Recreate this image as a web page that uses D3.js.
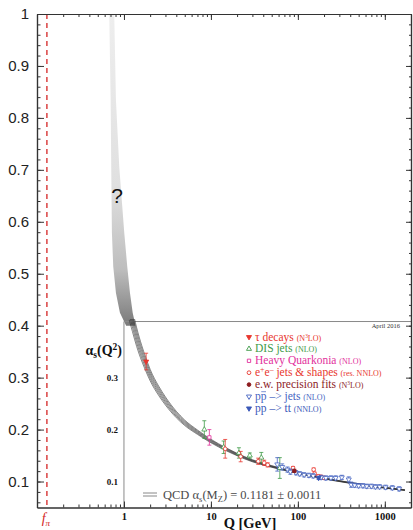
<!DOCTYPE html>
<html>
<head>
<meta charset="utf-8">
<style>
  body { margin: 0; background: #fff; }
  svg text { font-family: "Liberation Serif", "Times New Roman", serif; }
</style>
</head>
<body>
<div id="chart"><svg></svg></div>
<script src="https://cdn.jsdelivr.net/npm/d3@7/dist/d3.min.js"></script>
<script>
// QCD running coupling band (black hatched lines)
var curveQ     = [1.15, 1.25, 1.4, 1.6, 1.78, 2, 2.5, 3, 4, 5, 7, 10, 15, 20, 30, 50, 91.19, 150, 250, 400, 700, 1000, 1700]
var curveAlpha = [0.435, 0.41, 0.378, 0.347, 0.326, 0.305, 0.275, 0.255, 0.229, 0.213, 0.195, 0.178, 0.162, 0.152, 0.140, 0.129, 0.1181, 0.1102, 0.103, 0.0974, 0.0913, 0.0880, 0.0835]
var curveErr   = [0.024, 0.021, 0.018, 0.015, 0.013, 0.011, 0.009, 0.0078, 0.0062, 0.0052, 0.0042, 0.0034, 0.0028, 0.0024, 0.0020, 0.0016, 0.0011, 0.0010, 0.0009, 0.0009, 0.0008, 0.0008, 0.0007]

// grey "?" region at low Q: edges at given alpha values
var greyAlpha  = [1.0, 0.834, 0.706, 0.579, 0.514, 0.463, 0.425, 0.400]
var greyQLeft  = [0.677, 0.703, 0.714, 0.727, 0.753, 0.809, 0.899, 1.06]
var greyQRight = [0.773, 0.809, 0.883, 1.008, 1.091, 1.173, 1.26, 1.36]

// measurements
var tauQ = [1.8], tauAlpha = [0.331], tauErr = [0.016]
var disQ = [8.4, 14, 21, 28, 38, 62]
var disAlpha = [0.200, 0.166, 0.155, 0.150, 0.146, 0.126]
var disErr = [0.017, 0.012, 0.010, 0.005, 0.010, 0.020]
var hqQ = [9.6], hqAlpha = [0.185], hqErr = [0.015]
var eeQ = [14.6, 22, 35, 41, 45, 88, 152, 156, 172, 185, 200]
var eeAlpha = [0.163, 0.148, 0.139, 0.136, 0.132, 0.126, 0.123, 0.115, 0.110, 0.109, 0.107]
var eeErr = [0.018, 0.010, 0.006, 0.005, 0.004, 0.003, 0.003, 0.003, 0.003, 0.003, 0.003]
var ewQ = [91.19], ewAlpha = [0.1205], ewErr = [0.003]
var ppbarQ = [58, 66, 76, 82, 95, 105, 118, 134, 150, 185, 210, 240, 272, 320, 385, 410, 450, 500, 560, 620, 700, 780, 870, 1020, 1220, 1460]
var ppbarAlpha = [0.133, 0.128, 0.123, 0.119, 0.117, 0.115, 0.113, 0.112, 0.111, 0.108, 0.107, 0.107, 0.107, 0.108, 0.104, 0.094, 0.093, 0.092, 0.092, 0.091, 0.091, 0.090, 0.090, 0.089, 0.088, 0.086]
var ppbarErr = [0.013, 0.006, 0.005, 0.005, 0.004, 0.004, 0.004, 0.004, 0.004, 0.004, 0.004, 0.004, 0.004, 0.004, 0.005, 0.005, 0.004, 0.004, 0.004, 0.004, 0.004, 0.004, 0.004, 0.004, 0.004, 0.004]
var ttQ = [173], ttAlpha = [0.107], ttErr = [0.003]

// legend
var legendLabels = ["τ decays", "DIS jets", "Heavy Quarkonia", "e^{+}e^{–}  jets & shapes", "e.w. precision fits", "p~{p} –> jets", "pp –> tt"]
var legendNotes = ["(N^{3}LO)", "(NLO)", "(NLO)", "(res. NNLO)", "(N^{3}LO)", "(NLO)", "(NNLO)"]
var legendColors = ["#e8362e", "#3f9a48", "#e2309c", "#e8362e", "#8c1c1f", "#4664c2", "#3a58b8"]

var yMajor = [0.1, 0.2, 0.3, 0.4, 0.5, 0.6, 0.7, 0.8, 0.9, 1]
var insetYTicks = [0.1, 0.2, 0.3]
var xLabels = [1, 10, 100, 1000]
var fPi = 0.13

var screen = {width: 413, height: 530}
var frame = {left: 37, right: 411, top: 14, bottom: 507.5}

var svg = d3.select("#chart svg").attr("width", screen.width).attr("height", screen.height)

var xScale = d3.scaleLog().domain([0.1, 2000]).range([frame.left, frame.right])
var yScale = d3.scaleLinear().domain([0.05, 1]).range([frame.bottom, frame.top])

// small rich text helper: ^{sup} _{sub} ~{overline}; returns char ranges to overline
function rich(sel, str, size) {
    var re = /([\^_~])\{([^}]*)\}|([^\^_~]+)/g, m, n = 0, over = []
    while ((m = re.exec(str))) {
        if (m[3]) { sel.append("tspan").text(m[3]); n += m[3].length; continue }
        var t = sel.append("tspan").text(m[2])
        if (m[1] == "^") t.attr("baseline-shift", size * 0.33).attr("font-size", size * 0.68)
        if (m[1] == "_") t.attr("baseline-shift", -size * 0.22).attr("font-size", size * 0.68)
        if (m[1] == "~") over.push([n, m[2].length])
        n += m[2].length
    }
    return over
}

var defs = svg.append("defs")
var grad = defs.append("linearGradient").attr("id", "greyband")
    .attr("gradientUnits", "userSpaceOnUse")
    .attr("x1", 0).attr("x2", 0).attr("y1", yScale(1)).attr("y2", yScale(0.40))
grad.append("stop").attr("offset", 0).attr("stop-color", "#eeeeee")
grad.append("stop").attr("offset", 0.55).attr("stop-color", "#e0e0e0")
grad.append("stop").attr("offset", 0.82).attr("stop-color", "#bdbdbd")
grad.append("stop").attr("offset", 1).attr("stop-color", "#7a7a7a")

defs.append("clipPath").attr("id", "insetclip").append("rect")
    .attr("x", xScale(1)).attr("y", yScale(0.413))
    .attr("width", frame.right - xScale(1)).attr("height", frame.bottom - yScale(0.413))

// grey band
var greyPts = greyAlpha.map(function(a, i) { return [xScale(greyQLeft[i]), yScale(a)] })
    .concat(greyAlpha.map(function(a, i) { return [xScale(greyQRight[i]), yScale(a)] }).reverse())
svg.append("path")
    .attr("d", d3.line().curve(d3.curveLinearClosed)(greyPts))
    .attr("fill", "url(#greyband)")

svg.append("text").attr("x", 117).attr("y", 203)
    .attr("text-anchor", "middle")
    .style("font-family", "Liberation Sans, Arial, sans-serif")
    .attr("font-size", 21).attr("fill", "#111")
    .text("?")

// inset frame
svg.append("path")
    .attr("d", "M" + xScale(1) + "," + frame.bottom + "V" + yScale(0.408) + "H" + frame.right)
    .attr("fill", "none").attr("stroke", "#8a8a8a").attr("stroke-width", 1)

// hatched running-coupling band
var bandLines = [-1, -0.6, -0.2, 0.2, 0.6, 1]
var lineGen = d3.line().curve(d3.curveMonotoneX)
    .x(function(d) { return xScale(d[0]) })
    .y(function(d) { return yScale(d[1]) })
svg.append("g").attr("clip-path", "url(#insetclip)")
    .selectAll("path").data(bandLines).enter().append("path")
    .attr("d", function(k) {
        return lineGen(curveQ.map(function(q, i) { return [q, curveAlpha[i] + k * curveErr[i]] }))
    })
    .attr("fill", "none").attr("stroke", "#333").attr("stroke-width", 0.6)

// f_pi line
svg.append("line")
    .attr("x1", xScale(fPi)).attr("x2", xScale(fPi))
    .attr("y1", frame.top).attr("y2", frame.bottom)
    .attr("stroke", "#d42424").attr("stroke-width", 1.3).attr("stroke-dasharray", "5,4")

// measurements
var series = [
    {q: tauQ, a: tauAlpha, e: tauErr, c: legendColors[0], sym: d3.symbolTriangle, rot: 180, fill: true},
    {q: disQ, a: disAlpha, e: disErr, c: legendColors[1], sym: d3.symbolTriangle, rot: 0, fill: false},
    {q: hqQ, a: hqAlpha, e: hqErr, c: legendColors[2], sym: d3.symbolSquare, rot: 0, fill: false},
    {q: eeQ, a: eeAlpha, e: eeErr, c: legendColors[3], sym: d3.symbolCircle, rot: 0, fill: false},
    {q: ppbarQ, a: ppbarAlpha, e: ppbarErr, c: legendColors[5], sym: d3.symbolTriangle, rot: 180, fill: false},
    {q: ttQ, a: ttAlpha, e: ttErr, c: legendColors[6], sym: d3.symbolTriangle, rot: 180, fill: true},
    {q: ewQ, a: ewAlpha, e: ewErr, c: legendColors[4], sym: d3.symbolCircle, rot: 0, fill: true}
]
var pts = svg.append("g")
series.forEach(function(s) {
    var g = pts.append("g").attr("stroke", s.c).attr("stroke-width", 0.8)
    s.q.forEach(function(q, i) {
        var px = xScale(q), y1 = yScale(s.a[i] + s.e[i]), y2 = yScale(s.a[i] - s.e[i])
        g.append("path")
            .attr("d", "M" + (px - 2) + "," + y1 + "H" + (px + 2) + "M" + px + "," + y1 + "V" + y2 + "M" + (px - 2) + "," + y2 + "H" + (px + 2))
            .attr("fill", "none")
        g.append("path")
            .attr("d", d3.symbol().type(s.sym).size(11)())
            .attr("transform", "translate(" + px + "," + yScale(s.a[i]) + ") rotate(" + s.rot + ")")
            .attr("fill", s.fill ? s.c : "#fff")
    })
})

// legend
var legSyms = [[d3.symbolTriangle, 180, true], [d3.symbolTriangle, 0, false], [d3.symbolSquare, 0, false],
               [d3.symbolCircle, 0, false], [d3.symbolCircle, 0, true], [d3.symbolTriangle, 180, false], [d3.symbolTriangle, 180, true]]
var legend = svg.append("g").attr("transform", "translate(249,337)")
legendLabels.forEach(function(lab, i) {
    var row = legend.append("g").attr("transform", "translate(0," + (i * 11.9) + ")")
    row.append("path")
        .attr("d", d3.symbol().type(legSyms[i][0]).size(11)())
        .attr("transform", "rotate(" + legSyms[i][1] + ")")
        .attr("fill", legSyms[i][2] ? legendColors[i] : "#fff")
        .attr("stroke", legendColors[i]).attr("stroke-width", 0.9)
    var t = row.append("text").attr("x", 6).attr("y", 3.5).attr("fill", legendColors[i]).attr("font-size", 11.5)
    var over = rich(t, lab + " ", 11.5)
    var n = t.append("tspan").attr("font-size", 8)
    rich(n, legendNotes[i], 8)
    over.forEach(function(o) {
        var a = t.node().getStartPositionOfChar(o[0]).x
        var b = t.node().getEndPositionOfChar(o[0] + o[1] - 1).x
        row.append("line").attr("x1", a + 0.5).attr("x2", b - 0.5).attr("y1", -4.8).attr("y2", -4.8)
            .attr("stroke", legendColors[i]).attr("stroke-width", 0.7)
    })
})

svg.append("text").attr("x", 400).attr("y", 328).attr("text-anchor", "end")
    .attr("font-size", 6.5).attr("fill", "#333").text("April 2016")

// alpha_s(Q^2) label
var al = svg.append("text").attr("x", 122).attr("y", 355).attr("text-anchor", "end")
    .attr("font-size", 14).attr("font-weight", "bold").attr("fill", "#111")
rich(al, "α_{s}(Q^{2})", 14)

// QCD band legend
var qg = svg.append("g").attr("stroke", "#888").attr("stroke-width", 1)
qg.append("line").attr("x1", 143).attr("x2", 157).attr("y1", 493).attr("y2", 493)
qg.append("line").attr("x1", 143).attr("x2", 157).attr("y1", 496).attr("y2", 496)
var qt = svg.append("text").attr("x", 163).attr("y", 499).attr("font-size", 12.5).attr("fill", "#4a4a4a")
rich(qt, "QCD α_{s}(M_{Z}) = 0.1181 ± 0.0011", 12.5)

// axes
function styleAxis(g) {
    g.selectAll("path").attr("stroke", "#333").attr("stroke-width", 1.2)
    g.selectAll("line").attr("stroke", "#333")
}
var yMinor = d3.range(0.06, 1.0001, 0.02)
svg.append("g").attr("transform", "translate(" + frame.left + ",0)")
    .call(d3.axisLeft(yScale).tickValues(yMinor).tickSize(-3.5).tickSizeOuter(0).tickFormat(""))
    .call(styleAxis)
svg.append("g").attr("transform", "translate(" + frame.left + ",0)")
    .call(d3.axisLeft(yScale).tickValues(yMajor).tickSize(-7).tickSizeOuter(0).tickPadding(8)
        .tickFormat(function(d) { return d === 1 ? "1" : d.toFixed(1) }))
    .call(styleAxis)
    .call(function(g) {
        g.selectAll("text").style("font-family", "Liberation Sans, Arial, sans-serif")
            .attr("font-size", 15).attr("fill", "#222")
    })
svg.append("g").attr("transform", "translate(" + frame.right + ",0)")
    .call(d3.axisRight(yScale).tickValues(yMinor).tickSize(-2).tickSizeOuter(0).tickFormat(""))
    .call(styleAxis)
svg.append("g").attr("transform", "translate(" + frame.right + ",0)")
    .call(d3.axisRight(yScale).tickValues(yMajor).tickSize(-5).tickSizeOuter(0).tickFormat(""))
    .call(styleAxis)

var xMinor = xScale.ticks()
svg.append("g").attr("transform", "translate(0," + frame.top + ")")
    .call(d3.axisTop(xScale).tickValues(xMinor).tickSize(-3).tickSizeOuter(0).tickFormat(""))
    .call(styleAxis)
svg.append("g").attr("transform", "translate(0," + frame.top + ")")
    .call(d3.axisTop(xScale).tickValues(xLabels).tickSize(-6).tickSizeOuter(0).tickFormat(""))
    .call(styleAxis)
svg.append("g").attr("transform", "translate(0," + frame.bottom + ")")
    .call(d3.axisBottom(xScale).tickValues(xMinor).tickSize(-3).tickSizeOuter(0).tickFormat(""))
    .call(styleAxis)
svg.append("g").attr("transform", "translate(0," + frame.bottom + ")")
    .call(d3.axisBottom(xScale).tickValues(xLabels).tickSize(-6).tickSizeOuter(0).tickPadding(5)
        .tickFormat(d3.format("d")))
    .call(styleAxis)
    .call(function(g) {
        g.selectAll("text").attr("font-size", 10.5).attr("font-weight", "bold").attr("fill", "#111")
            .style("font-family", "Liberation Serif, serif")
    })

// inset y labels
svg.append("g").attr("transform", "translate(" + xScale(1) + ",0)")
    .call(d3.axisLeft(yScale).tickValues(insetYTicks).tickSize(0).tickPadding(6).tickFormat(d3.format(".1f")))
    .call(function(g) {
        g.select(".domain").remove()
        g.selectAll("text").attr("font-size", 9).attr("font-weight", "bold").attr("fill", "#111")
            .style("font-family", "Liberation Serif, serif")
    })

// axis titles
svg.append("text").attr("x", 250).attr("y", 528).attr("text-anchor", "middle")
    .attr("font-size", 14.5).attr("font-weight", "bold").attr("fill", "#111").text("Q [GeV]")
var fp = svg.append("text").attr("x", xScale(fPi) - 1).attr("y", 523).attr("text-anchor", "middle")
    .attr("font-size", 14).attr("font-style", "italic").attr("fill", "#d42424")
fp.append("tspan").text("f")
fp.append("tspan").attr("baseline-shift", -2.5).attr("font-size", 9).text("π")
</script>
</body>
</html>
